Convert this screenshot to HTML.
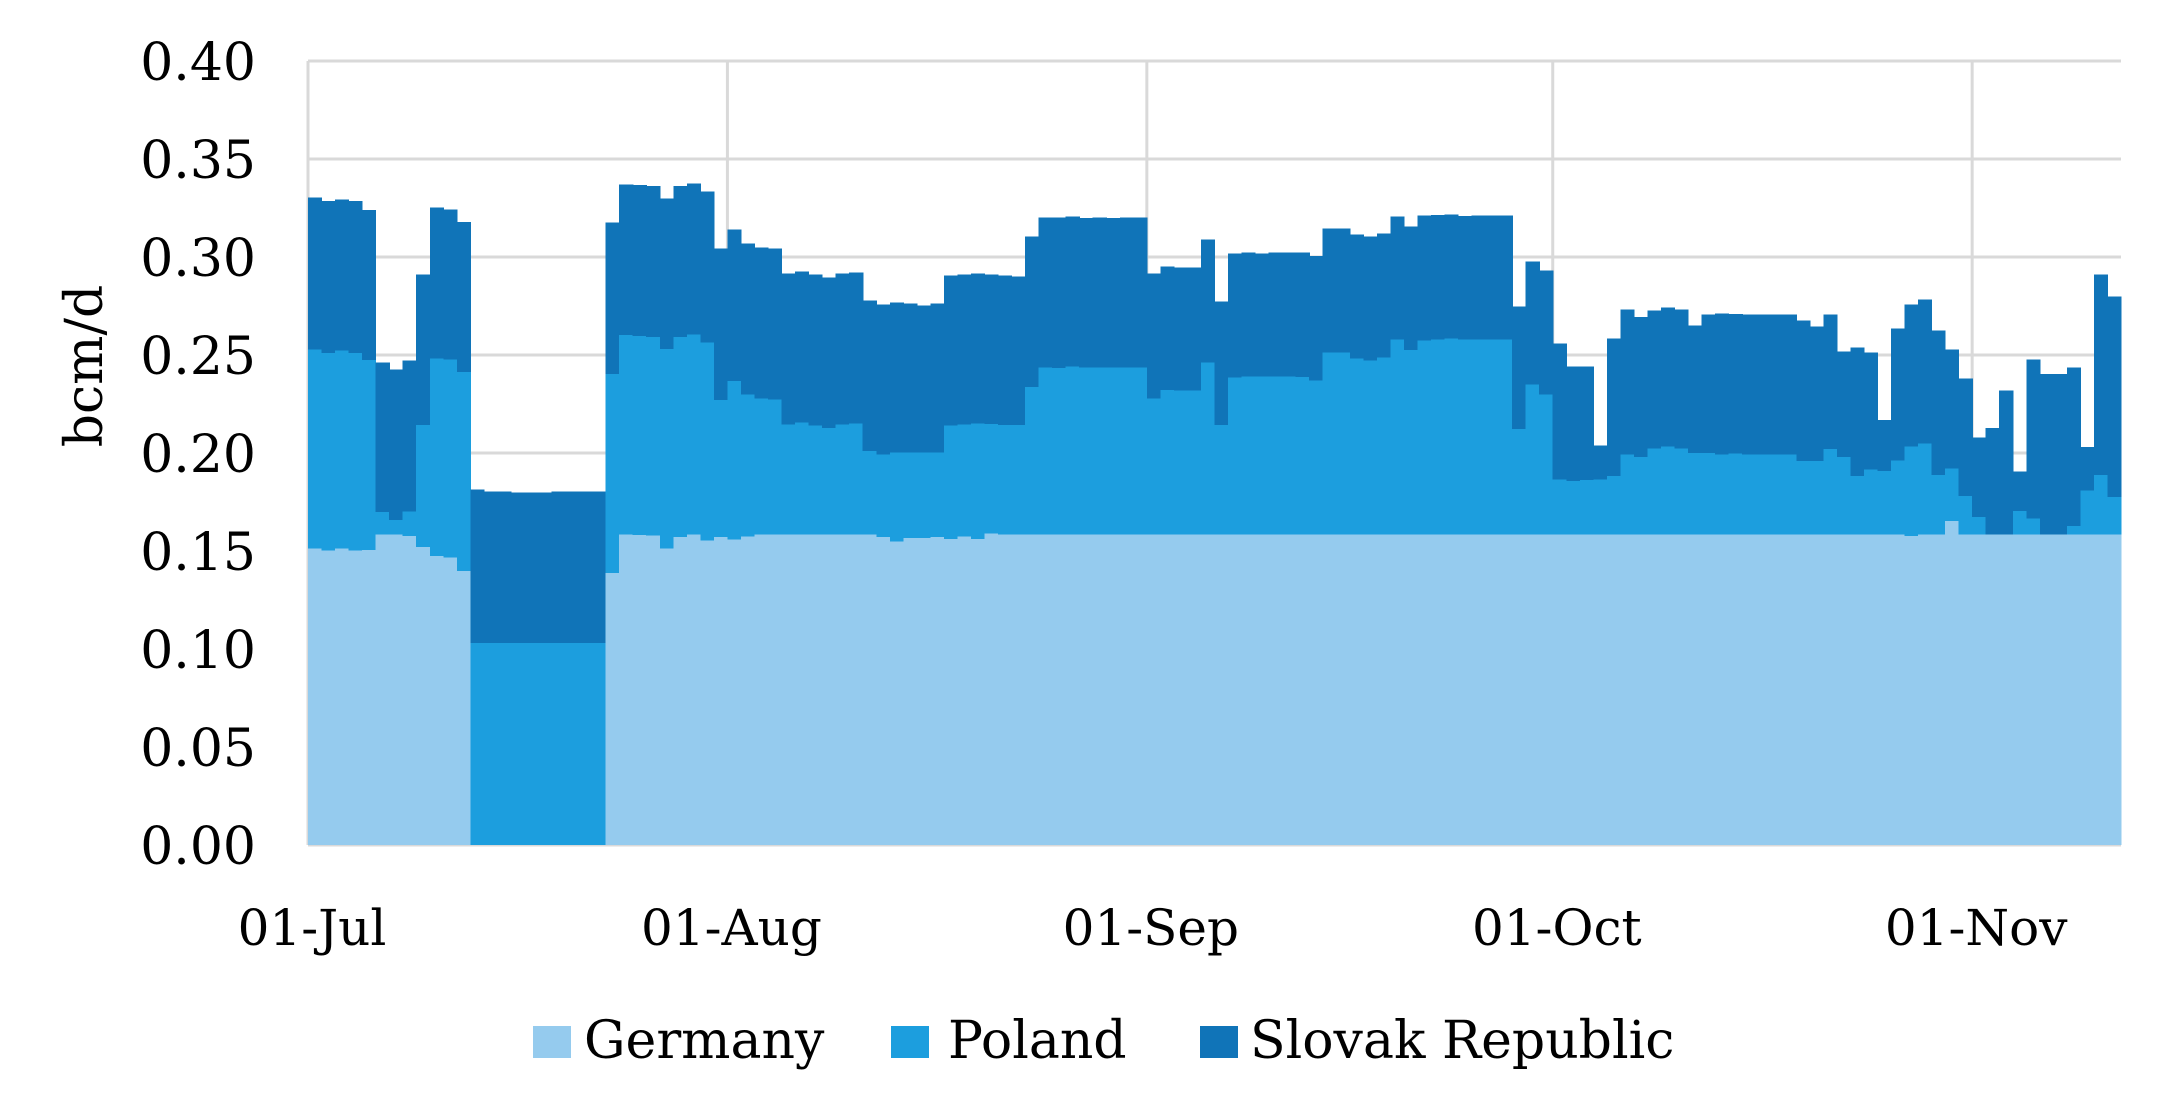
<!DOCTYPE html>
<html><head><meta charset="utf-8"><style>
html,body{margin:0;padding:0;background:#fff;}
svg{display:block;}
text{font-family:"DejaVu Serif","Liberation Serif",serif;fill:#000;}
</style></head><body>
<svg id="c" width="2171" height="1116" viewBox="0 0 2171 1116" xmlns="http://www.w3.org/2000/svg">
<g id="grid" stroke="#d9d9d9" stroke-width="3"></g>
<g id="bars" shape-rendering="crispEdges"></g>
<g id="labels"></g>
<rect x="533" y="1026" width="38" height="32" fill="#95CBEE"/>
<text x="584" y="1058" font-size="52">Germany</text>
<rect x="891" y="1026" width="38" height="32" fill="#1C9EDE"/>
<text x="948" y="1058" font-size="52">Poland</text>
<rect x="1200" y="1026" width="38" height="32" fill="#1074B8"/>
<text x="1250" y="1058" font-size="52">Slovak Republic</text>
<text transform="translate(102,366) rotate(-90)" text-anchor="middle" font-size="52">bcm/d</text>
</svg>
<script>
var S=[82,93,88,93,120,577,598,571,313,112,118,156,958,964,964,967,967,967,964,964,964,964,157,43,45,48,85,48,40,64,235,178,220,232,235,310,304,313,322,311,307,391,403,398,401,406,400,316,313,311,313,316,319,199,142,142,139,144,142,144,142,142,311,290,293,293,208,395,251,247,250,247,247,247,258,175,175,193,199,190,139,169,137,135,133,138,136,136,136,409,274,301,520,590,590,827,506,419,441,422,412,419,466,434,430,432,433,433,433,433,451,469,433,544,532,547,750,475,403,388,481,538,625,802,774,661,904,568,612,612,592,831,313,379];
var P=[538,549,541,549,570,1026,1050,1024,765,565,568,606,1419,1419,1419,1419,1419,1419,1419,1419,1419,1419,612,495,498,501,537,501,493,517,690,633,673,685,688,763,757,766,774,763,760,843,853,848,848,848,848,766,763,760,762,765,765,651,592,594,590,592,592,592,592,592,685,660,661,661,577,765,622,619,620,619,619,621,631,547,547,565,571,562,508,540,511,508,506,508,508,508,508,777,643,673,928,933,930,928,918,853,861,835,829,835,849,849,853,850,853,853,853,853,873,873,837,861,918,898,903,871,829,820,915,895,978,1041,1093,1093,1023,1045,1093,1093,1068,961,915,981];
var G=[];for(var i=0;i<134;i++)G.push(1093);
var o={0:1135,1:1142,2:1135,3:1142,4:1140,7:1098,8:1131,9:1158,10:1163,11:1203,22:1209,24:1095,25:1097,26:1135,27:1101,29:1112,30:1101,31:1108,32:1099,42:1101,43:1115,44:1104,45:1104,46:1101,47:1107,48:1099,49:1107,50:1090,118:1098,121:1053};
for(var k in o)G[k]=o[k];
for(var i=12;i<=21;i++)G[i]=2025;
var ns="http://www.w3.org/2000/svg";
function Y(z){return 170+z/3;}
var L=308,R=2121,B=845,T=61,w=(R-L)/134;
var grid=document.getElementById('grid');
function line(x1,y1,x2,y2,c){var l=document.createElementNS(ns,'line');l.setAttribute('x1',x1);l.setAttribute('y1',y1);l.setAttribute('x2',x2);l.setAttribute('y2',y2);if(c)l.setAttribute('stroke',c);grid.appendChild(l);}
for(var i=0;i<=8;i++){var y=B-i*(B-T)/8;line(L,y,R,y);}
var months=[0,31,62,92,123];
months.forEach(function(d){var x=L+d*w;line(x,T,x,B);});
var bars=document.getElementById('bars');
function rect(x,y1,y2,c){if(y2<=y1)return;var r=document.createElementNS(ns,'rect');r.setAttribute('x',x);r.setAttribute('y',y1);r.setAttribute('width',w+0.6);r.setAttribute('height',y2-y1);r.setAttribute('fill',c);bars.appendChild(r);}
for(var i=0;i<134;i++){var x=L+i*w;
rect(x,Y(S[i]),Y(P[i]),'#1074B8');
rect(x,Y(P[i]),Y(G[i]),'#1C9EDE');
rect(x,Y(G[i]),B,'#95CBEE');}
line(L,B,R,B,'#d9d9d9');
var lab=document.getElementById('labels');
function txt(x,y,s,a,fs){var t=document.createElementNS(ns,'text');t.setAttribute('x',x);t.setAttribute('y',y);t.setAttribute('font-size',fs);t.setAttribute('text-anchor',a);t.textContent=s;lab.appendChild(t);}
for(var i=0;i<=8;i++){var y=B-i*(B-T)/8;txt(256,y+19,(i*0.05).toFixed(2),'end','52');}
var mn=['01-Jul','01-Aug','01-Sep','01-Oct','01-Nov'];
months.forEach(function(d,j){txt(L+d*w+4,945,mn[j],'middle','50');});
</script>
</body></html>
